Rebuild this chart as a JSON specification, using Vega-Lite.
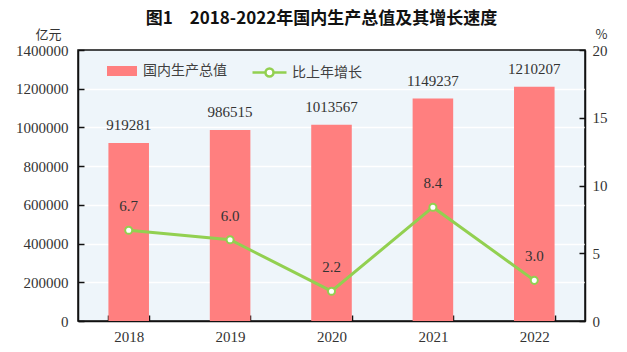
{
  "$schema": "https://vega.github.io/schema/vega-lite/v6.json",
  "autosize": "none",
  "width": 507,
  "height": 271,
  "padding": {"left": 78, "top": 50, "right": 42, "bottom": 31},
  "background": "white",
  "title": {
    "text": "图1　2018-2022年国内生产总值及其增长速度",
    "font": "Noto Sans CJK SC",
    "fontSize": 17,
    "fontWeight": "bold",
    "color": "#111111",
    "anchor": "middle",
    "frame": "group",
    "dx": -10,
    "offset": 0
  },
  "config": {
    "view": {"fill": "#EEF5FA", "stroke": "#111111", "strokeWidth": 1.5},
    "axis": {
      "labelFont": "Liberation Serif",
      "labelFontSize": 15,
      "labelColor": "#333333",
      "titleFont": "Noto Sans CJK SC",
      "titleFontSize": 13,
      "titleFontWeight": "normal",
      "titleColor": "#333333",
      "domainColor": "#111111",
      "domainWidth": 1.5,
      "tickColor": "#111111",
      "tickWidth": 1.5,
      "zindex": 1
    },
    "legend": {
      "labelFont": "Noto Sans CJK SC",
      "labelFontSize": 14,
      "labelColor": "#404040",
      "padding": 0,
      "orient": "none",
      "title": null
    }
  },
  "data": {
    "values": [
      {"year": "2018", "gdp": 919281, "growth": 6.7},
      {"year": "2019", "gdp": 986515, "growth": 6.0},
      {"year": "2020", "gdp": 1013567, "growth": 2.2},
      {"year": "2021", "gdp": 1149237, "growth": 8.4},
      {"year": "2022", "gdp": 1210207, "growth": 3.0}
    ]
  },
  "encoding": {
    "x": {
      "field": "year",
      "type": "nominal",
      "scale": {"paddingInner": 0.6, "paddingOuter": 0.3},
      "axis": {
        "title": null,
        "labelAngle": 0,
        "tickBand": "extent",
        "tickSize": -6,
        "labelPadding": 14,
        "grid": false
      }
    }
  },
  "layer": [
    {
      "encoding": {
        "y": {
          "field": "gdp",
          "type": "quantitative",
          "scale": {"domain": [0, 1400000], "nice": false},
          "axis": {
            "orient": "left",
            "values": [0, 200000, 400000, 600000, 800000, 1000000, 1200000, 1400000],
            "format": "d",
            "tickSize": -6,
            "labelPadding": 16,
            "grid": true,
            "gridColor": "white",
            "gridWidth": 1.5,
            "gridOpacity": {"condition": {"test": "datum.value >= 1400000 || datum.value <= 0", "value": 0}, "value": 1},
            "title": "亿元",
            "titleAngle": 0,
            "titleAlign": "center",
            "titleBaseline": "middle",
            "titleX": -30,
            "titleY": -16
          }
        }
      },
      "layer": [
        {
          "mark": {"type": "bar"},
          "encoding": {
            "fill": {
              "datum": "国内生产总值",
              "scale": {"range": ["#FF7F7F"]},
              "legend": {
                "legendX": 34,
                "legendY": 11,
                "symbolType": "M-1.5,-0.5H1.5V0.5H-1.5Z",
                "symbolSize": 400,
                "symbolStrokeWidth": 0,
                "symbolOpacity": 1,
                "labelOffset": 11
              }
            }
          }
        },
        {
          "mark": {"type": "text", "baseline": "middle", "dy": -18, "font": "Liberation Serif", "fontSize": 15, "color": "#333333"},
          "encoding": {
            "text": {"field": "gdp", "type": "quantitative", "format": "d"}
          }
        }
      ]
    },
    {
      "encoding": {
        "y": {
          "field": "growth",
          "type": "quantitative",
          "scale": {"domain": [0, 20], "nice": false},
          "axis": {
            "orient": "right",
            "values": [0, 5, 10, 15, 20],
            "tickSize": -6,
            "labelPadding": 13,
            "grid": false,
            "title": "%",
            "titleAngle": 0,
            "titleAlign": "center",
            "titleBaseline": "middle",
            "titleX": 16,
            "titleY": -16
          }
        }
      },
      "layer": [
        {
          "mark": {"type": "line", "strokeWidth": 3},
          "encoding": {
            "stroke": {
              "datum": "比上年增长",
              "scale": {"range": ["#92D050"]},
              "legend": {
                "legendX": 180,
                "legendY": 11,
                "symbolType": "M-1.7,0H-0.4M0.4,0H1.7M-0.4,0A0.4,0.4,0,1,1,0.4,0A0.4,0.4,0,1,1,-0.4,0Z",
                "symbolSize": 400,
                "symbolStrokeWidth": 2.5,
                "symbolFillColor": "white",
                "symbolOpacity": 1,
                "labelOffset": 11
              }
            }
          }
        },
        {
          "mark": {"type": "point", "filled": true, "fill": "white", "stroke": "#92D050", "strokeWidth": 2, "size": 50, "opacity": 1}
        },
        {
          "mark": {"type": "text", "baseline": "middle", "dy": -24, "font": "Liberation Serif", "fontSize": 15, "color": "#333333"},
          "encoding": {
            "text": {"field": "growth", "type": "quantitative", "format": ".1f"}
          }
        }
      ]
    }
  ],
  "resolve": {"scale": {"y": "independent"}}
}
